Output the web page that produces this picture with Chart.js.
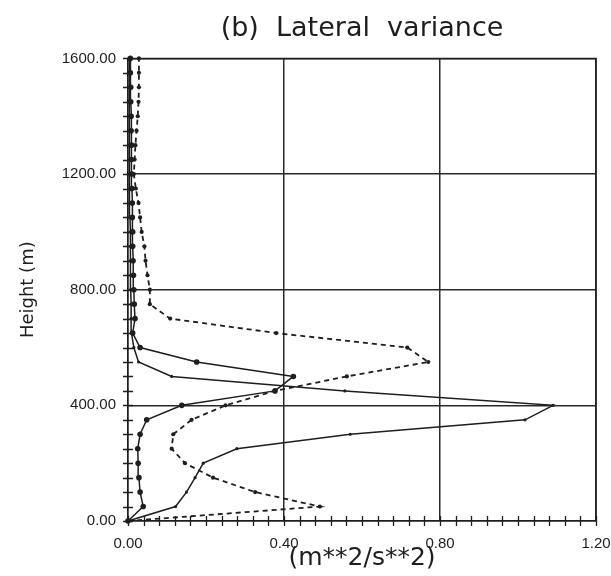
<!DOCTYPE html>
<html><head><meta charset="utf-8">
<script src="https://cdn.jsdelivr.net/npm/chart.js@4"></script>
<style>html,body{margin:0;padding:0;background:#fff}</style>
</head><body>
<canvas id="c" width="611" height="576"></canvas>
<script>
// Heights (m) at which each profile is sampled
const heights = [0,50,100,150,200,250,300,350,400,450,500,550,600,650,700,750,800,
  850,900,950,1000,1050,1100,1150,1200,1250,1300,1350,1400,1450,1500,1550,1600];
// Solid line with round dots
const solidDots = [0,0.039,0.031,0.028,0.026,0.025,0.031,0.048,0.138,0.377,0.424,0.176,0.031,
  0.012,0.018,0.016,0.015,0.014,0.013,0.012,0.012,0.011,0.011,0.010,0.010,0.009,0.009,0.008,0.008,0.007,0.007,0.006,0.006];
// Solid line with the large peak near 400 m
const solidPeak = [0,0.122,0.150,0.172,0.193,0.279,0.570,1.018,1.090,0.556,0.112,0.027,0.015,
  0.009,0.008,0.008,0.007,0.007,0.006,0.006,0.006,0.005,0.005,0.005,0.004,0.004,0.004,0.004,0.003,0.003,0.003,0.003,0.003];
// Dashed line
const dashedVals = [0,0.492,0.326,0.218,0.146,0.112,0.116,0.163,0.250,0.377,0.561,0.770,0.716,
  0.380,0.108,0.056,0.056,0.050,0.045,0.042,0.035,0.031,0.027,0.020,0.015,0.017,0.019,0.022,0.025,0.027,0.028,0.028,0.028];

const xTickLabels = ['0.00','0.40','0.80','1.20'];
const yTickLabels = ['0.00','400.00','800.00','1200.00','1600.00'];
const xMajor = 0.4, xMinor = 0.04, yMajor = 400, yMinor = 50;

const toPts = vals => vals.map((v,i)=>({x:v, y:heights[i]}));
const isMajor = (v, step) => Math.abs(v/step - Math.round(v/step)) < 1e-6;
const ink = '#1e1e1e';

const minorTicks = {
  id:'minorTicks',
  afterDraw(chart){
    const {ctx, scales:{x,y}, chartArea:a} = chart;
    ctx.save(); ctx.strokeStyle = ink; ctx.lineWidth = 1.3;
    ctx.beginPath();
    for (let i=0;i<=Math.round(1.2/xMinor);i++){
      const px = Math.round(x.getPixelForValue(i*xMinor))+0.5;
      ctx.moveTo(px,a.bottom-5); ctx.lineTo(px,a.bottom+5);
    }
    for (let i=0;i<=Math.round(1600/yMinor);i++){
      const py = Math.round(y.getPixelForValue(i*yMinor))+0.5;
      ctx.moveTo(a.left-5,py); ctx.lineTo(a.left+5,py);
    }
    ctx.stroke();
    // frame: top and right edges of the plot box
    ctx.lineWidth = 1.5; ctx.beginPath();
    const r = x.getPixelForValue(1.2), t = y.getPixelForValue(1600);
    ctx.moveTo(a.left, t); ctx.lineTo(r, t); ctx.lineTo(r, a.bottom);
    ctx.stroke(); ctx.restore();
  }
};

new Chart(document.getElementById('c'), {
  type:'scatter',
  data:{datasets:[
    {data:toPts(solidDots), showLine:true, borderColor:ink, backgroundColor:ink, borderWidth:1.5,
     pointRadius:2.8, pointBorderWidth:0, tension:0, clip:6},
    {data:toPts(solidPeak), showLine:true, borderColor:ink, backgroundColor:ink, borderWidth:1.5,
     pointRadius:1.6, pointBorderWidth:0, tension:0, clip:6},
    {data:toPts(dashedVals), showLine:true, borderColor:ink, backgroundColor:ink, borderWidth:1.8,
     borderDash:[5,4], pointRadius:2.1, pointBorderWidth:0, tension:0, clip:6}
  ]},
  options:{
    responsive:false, animation:false,
    layout:{padding:{left:0,right:15,top:0,bottom:0}},
    plugins:{
      legend:{display:false}, tooltip:{enabled:false},
      title:{display:true, fullSize:false, text:'(b)  Lateral  variance', color:ink,
        font:{family:'DejaVu Sans', size:27, weight:'normal'}, padding:{top:13,bottom:13}}
    },
    scales:{
      x:{type:'linear', min:0, max:1.2,
        ticks:{stepSize:xMinor, autoSkip:false, maxRotation:0, padding:14, color:ink,
          font:{family:'Liberation Sans', size:15},
          callback:v=> isMajor(v,xMajor) ? xTickLabels[Math.round(v/xMajor)] : ''},
        grid:{drawTicks:false, lineWidth:1.5, color:c=> (c.tick && isMajor(c.tick.value,xMajor)) ? '#2a2a2a' : 'rgba(0,0,0,0)'},
        border:{display:true, color:ink, width:1.5},
        title:{display:true, text:'(m**2/s**2)', color:ink, font:{family:'DejaVu Sans', size:25}, padding:{top:0,bottom:3}},
        afterFit(s){ s.height = 55; s.paddingRight = 0; s.paddingLeft = 0; }
      },
      y:{type:'linear', min:0, max:1600,
        ticks:{stepSize:yMinor, autoSkip:false, padding:12, color:ink,
          font:{family:'Liberation Sans', size:15},
          callback:v=> isMajor(v,yMajor) ? yTickLabels[Math.round(v/yMajor)] : ''},
        grid:{drawTicks:false, lineWidth:1.5, color:c=> (c.tick && isMajor(c.tick.value,yMajor)) ? '#2a2a2a' : 'rgba(0,0,0,0)'},
        border:{display:true, color:ink, width:1.5},
        title:{display:true, text:'Height (m)', color:ink, font:{family:'DejaVu Sans', size:18}, padding:{top:18,bottom:0}},
        afterFit(s){ s.width = 128; }
      }
    }
  },
  plugins:[minorTicks]
});
</script>
</body></html>
